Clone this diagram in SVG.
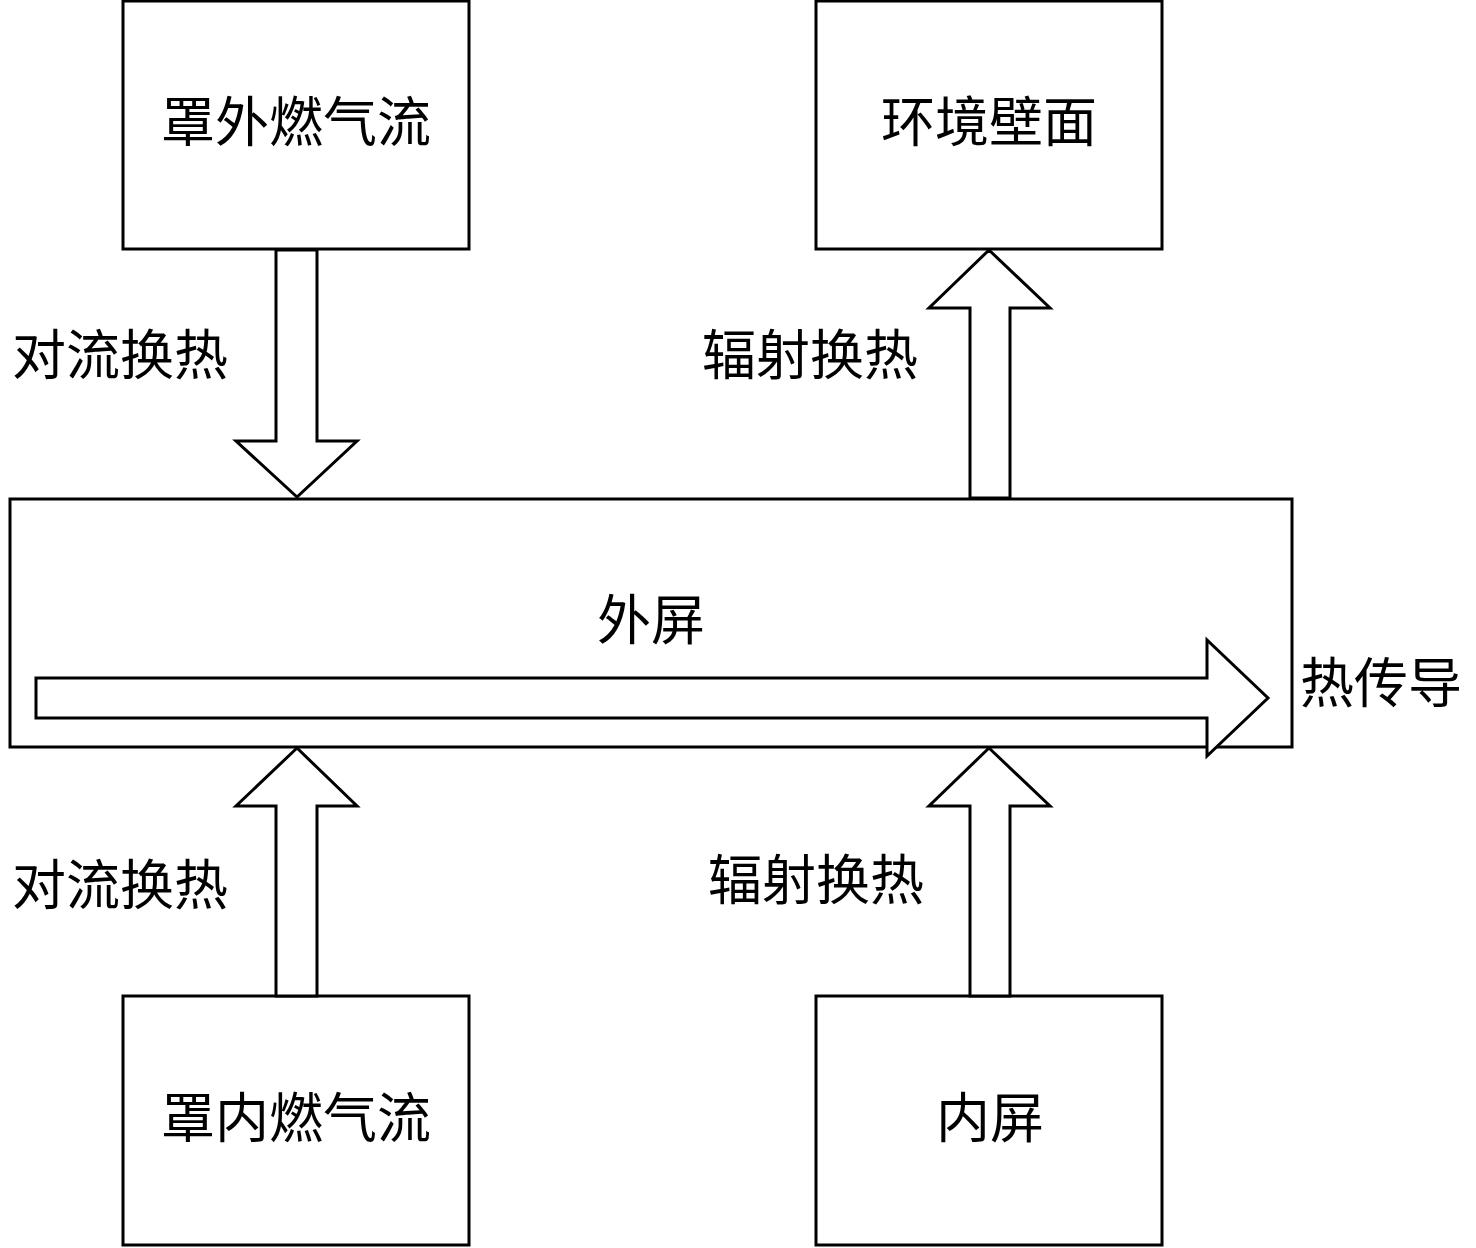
<svg xmlns="http://www.w3.org/2000/svg" width="1476" height="1248" viewBox="0 0 1476 1248">
<style>
.box{fill:#fff;stroke:#000;stroke-width:3}
.arr{fill:#fff;stroke:#000;stroke-width:3;stroke-linejoin:miter}
text{font-family:"Noto Sans CJK SC","Noto Sans CJK JP",sans-serif;font-size:54px;fill:#000;text-anchor:middle}
</style>
<rect width="1476" height="1248" fill="#fff"/>
<g id="outer-screen">
<rect class="box" x="10" y="499" width="1282" height="248"/>
<text x="651" y="640">外屏</text>
</g>
<g id="gas-outside">
<rect class="box" x="123" y="1" width="346" height="248"/>
<text x="296" y="142">罩外燃气流</text>
</g>
<g id="env-wall">
<rect class="box" x="816" y="1" width="346" height="248"/>
<text x="989" y="142">环境壁面</text>
</g>
<g id="gas-inside">
<rect class="box" x="123" y="996" width="346" height="249"/>
<text x="296" y="1138">罩内燃气流</text>
</g>
<g id="inner-screen">
<rect class="box" x="816" y="996" width="346" height="249"/>
<text x="990" y="1138">内屏</text>
</g>
<g id="connectors">
<polygon class="arr" points="276,250 317,250 317,441 357,441 297,497 236,441 276,441"/>
<polygon class="arr" points="970,498 970,308 929,308 989,250 1050,308 1010,308 1010,498"/>
<polygon class="arr" points="276,996 276,806 236,806 297,748 357,806 317,806 317,996"/>
<polygon class="arr" points="970,996 970,806 929,806 989,748 1050,806 1010,806 1010,996"/>
<polygon class="arr" points="36,678 1207,678 1207,640 1268,698 1207,756 1207,718 36,718"/>
<text x="120" y="375">对流换热</text>
<text x="810" y="375">辐射换热</text>
<text x="120" y="905">对流换热</text>
<text x="816" y="900">辐射换热</text>
<text x="1381" y="703">热传导</text>
</g>
</svg>
